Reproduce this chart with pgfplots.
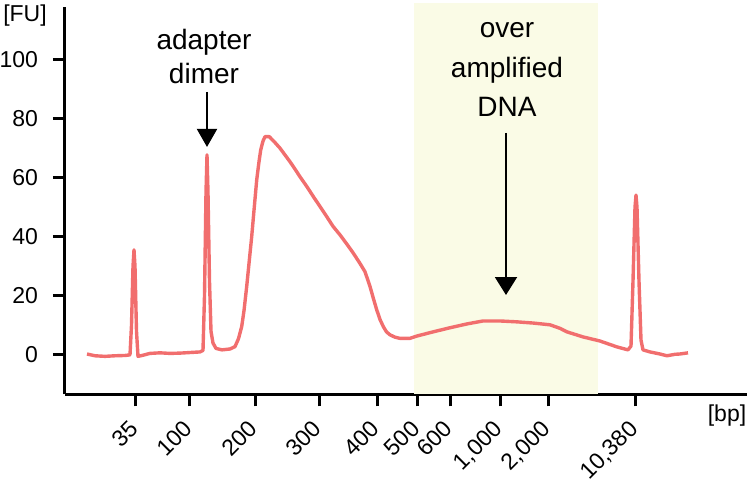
\documentclass[border=0pt]{standalone}
\usepackage{fontspec}
\setmainfont{Liberation Sans}
\usepackage{pgfplots}
\pgfplotsset{compat=1.18}
\usetikzlibrary{arrows.meta}

\definecolor{trace}{RGB}{241,110,110}
\definecolor{ampbg}{RGB}{250,251,230}

% electropherogram trace: x = position along the run, y = fluorescence [FU]
\pgfplotstableread{
x y
87 0.3
95 -0.3
105 -0.5
115 -0.3
125 -0.2
130 0.0
131.5 10
133 30
134 35.6
135 30
136.5 8
138 -0.5
142 -0.2
150 0.5
160 0.7
170 0.5
180 0.6
190 0.8
200 1.0
203 1.5
204.5 20
206 55
207 67.8
208 55
209.5 25
211 8
213 4
216 2.2
222 1.7
230 2.0
235 2.8
238.5 5.5
241.7 9.6
244 15
246.7 23.2
249 31
251.7 40.1
254 49
256.7 59.3
259 65.5
260.7 69.5
263 72.5
265 74.0
269.3 74.0
275 72.0
280 70.1
285 67.8
290 65.5
295 63.0
300 60.4
307 57.0
313.3 53.7
320 50.3
326.7 46.9
333 43.6
340 40.7
347 37.5
353.3 34.5
360 31.0
365 28.2
370 23.2
373.5 19.0
376.7 15.3
380 12.0
383.3 9.6
386.5 7.8
390 6.8
395 6.0
400 5.6
410 5.6
417 6.4
433 7.8
450 9.2
467 10.5
483 11.5
500 11.5
517 11.2
533 10.8
550 10.2
560 9
567 7.8
583 6.1
600 4.7
617 2.7
628 1.7
631 3
633 25
635 50
636 54.2
637 50
639 25
641 5
643 1.7
650 1.0
660 0.3
667 -0.3
675 0.2
680 0.3
688 0.7
}\trace

\begin{document}
\begin{tikzpicture}
\begin{axis}[
    name=ax,
    at={(0,0)}, anchor=south west,
    scale only axis,
    width=341pt, height=193.75pt,
    xmin=65, xmax=747,
    ymin=-13.4, ymax=118,
    axis x line*=bottom,
    axis y line*=left,
    axis line style={-, line width=1.5pt},
    tick style={line width=1.5pt, black},
    tick align=outside,
    major tick length=6pt,
    ytick={0,20,40,60,80,100},
    xtick={136,190,255,319,377,417.7,450,500,548,635.7},
    xticklabels={35,100,200,300,400,500,600,{1,000},{2,000},{10,380}},
    /pgf/number format/assume math mode=true,
    ticklabel style={font=\fontsize{11.5}{13}\selectfont},
    yticklabel style={xshift=-4pt},
    xticklabel style={xshift=-4pt, yshift=-4.8pt, rotate=45, anchor=north east, inner sep=1pt},
    clip=false,
]
\fill[ampbg] (axis cs:414,-13.4) rectangle (axis cs:598,119.3);
\addplot[trace, line width=1.7pt, line join=round, no marks] table[x=x,y=y] {\trace};

\node[font=\fontsize{11.5}{13}\selectfont] at (axis cs:25,114.9) {[FU]};
\node[font=\fontsize{11.5}{13}\selectfont] at (axis cs:727,-20.5) {[bp]};

\node[font=\fontsize{14}{16}\selectfont, anchor=base] at (axis cs:204,103.7) {adapter};
\node[font=\fontsize{14}{16}\selectfont, anchor=base] at (axis cs:204,91.9) {dimer};
\draw[line width=1pt, -{Triangle[width=10pt,length=9pt]}] (axis cs:207,89.2) -- (axis cs:207,70.5);

\node[font=\fontsize{14}{16}\selectfont, anchor=base] at (axis cs:507,107.5) {over};
\node[font=\fontsize{14}{16}\selectfont, anchor=base] at (axis cs:507,94.2) {amplified};
\node[font=\fontsize{14}{16}\selectfont, anchor=base] at (axis cs:507,80.7) {DNA};
\draw[line width=1pt, -{Triangle[width=11pt,length=9pt]}] (axis cs:506,75.3) -- (axis cs:506,20.3);

\coordinate (bbsw) at (axis cs:0,-43.05);
\coordinate (bbne) at (axis cs:750,120.34);
\end{axis}
\pgfresetboundingbox
\useasboundingbox (bbsw) rectangle (bbne);
\end{tikzpicture}
\end{document}
